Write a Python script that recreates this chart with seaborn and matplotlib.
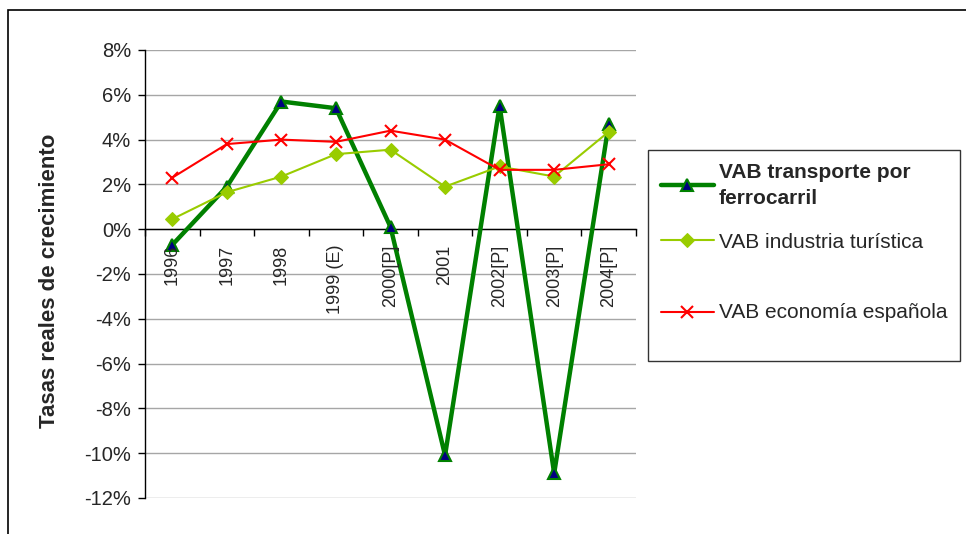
import matplotlib
matplotlib.use("Agg")
import matplotlib.pyplot as plt
import matplotlib.ticker as mtick
from matplotlib.patches import Rectangle
import seaborn as sns
import numpy as np

years = ["1996", "1997", "1998", "1999 (E)", "2000[P]", "2001", "2002[P]", "2003[P]", "2004[P]"]
ferrocarril = [-0.7, 1.9, 5.7, 5.4, 0.1, -10.1, 5.5, -10.9, 4.7]
turistica = [0.45, 1.65, 2.35, 3.35, 3.55, 1.9, 2.8, 2.35, 4.35]
economia = [2.3, 3.8, 4.0, 3.9, 4.4, 4.0, 2.65, 2.65, 2.9]
yticks = [-12, -10, -8, -6, -4, -2, 0, 2, 4, 6, 8]

sns.set_style("white")
plt.rcParams["font.family"] = ["Liberation Sans", "DejaVu Sans"]
plt.rcParams["axes.unicode_minus"] = False

fig = plt.figure(figsize=(9.66, 5.34), dpi=100)
ax = fig.add_axes([145 / 966, 36 / 534, 491 / 966, 448 / 534])
xs = np.arange(len(years))

sns.lineplot(x=xs, y=ferrocarril, ax=ax, color="#008000", lw=3.2, marker="^",
             markersize=8, markerfacecolor="#000080", markeredgecolor="#008000",
             markeredgewidth=1.5, label="VAB transporte por\nferrocarril", zorder=3)
sns.lineplot(x=xs, y=turistica, ax=ax, color="#99CC00", lw=1.5, marker="D",
             markersize=7, markerfacecolor="#99CC00", markeredgecolor="#99CC00",
             label="VAB industria turística", zorder=3.1)
sns.lineplot(x=xs, y=economia, ax=ax, color="#FF0000", lw=1.5, marker="x",
             markersize=9, markeredgewidth=1.5, markeredgecolor="#FF0000",
             label="\nVAB economía española\n", zorder=3.2)

handles, labels = ax.get_legend_handles_labels()
if ax.get_legend() is not None:
    ax.get_legend().remove()

ax.set_xlim(-0.5, len(years) - 0.5)
ax.set_ylim(-12, 8)
ax.set_yticks(yticks)
ax.yaxis.set_major_formatter(mtick.FuncFormatter(lambda v, p: f"{v:.0f}%"))
ax.tick_params(axis="y", direction="out", length=5, width=1, color="black",
               labelsize=14.5, pad=5, left=True)
ax.grid(axis="y", color="#A6A6A6", lw=1)
ax.grid(axis="x", visible=False)

ax.set_xticks(xs)
ax.set_xticks(np.arange(-0.5, len(years)), minor=True)
ax.tick_params(axis="x", which="major", length=0, pad=11, labelsize=13,
               labelrotation=90)
ax.tick_params(axis="x", which="minor", direction="out", length=5, width=1,
               color="black", bottom=True)
ax.set_xticklabels(years, rotation=90, va="top", ha="center")
for t in ax.get_xticklabels():
    t.set_bbox(dict(facecolor="white", edgecolor="none", pad=1))
ax.xaxis.set_zorder(4)

for s in ["top", "right"]:
    ax.spines[s].set_visible(False)
ax.spines["bottom"].set_position(("data", 0))
ax.spines["bottom"].set_color("black")
ax.spines["left"].set_color("black")
ax.spines["bottom"].set_linewidth(1)
ax.spines["left"].set_linewidth(1)

ax.set_xlabel("")
ax.set_ylabel("Tasas reales de crecimiento", fontsize=16, fontweight="bold")
ax.yaxis.set_label_coords(-0.173, 0.485)

leg = fig.legend(handles, labels, loc="upper left",
                 bbox_to_anchor=(648 / 966, 1 - 150 / 534), borderaxespad=0,
                 fontsize=15, frameon=True, fancybox=False, shadow=False,
                 handlelength=2.55, handletextpad=0.25, borderpad=0.6,
                 labelspacing=1.18)
leg.get_frame().set_edgecolor("black")
leg.get_frame().set_linewidth(1)
for t in leg.get_texts():
    t.set_linespacing(1.5)
leg.get_texts()[0].set_fontweight("bold")

fig.add_artist(Rectangle((8 / 966, -0.1), 1.2, 1.1 - 10 / 534, transform=fig.transFigure,
                         fill=False, edgecolor="black", lw=1.2))

fig.savefig("out.png", dpi=100)
